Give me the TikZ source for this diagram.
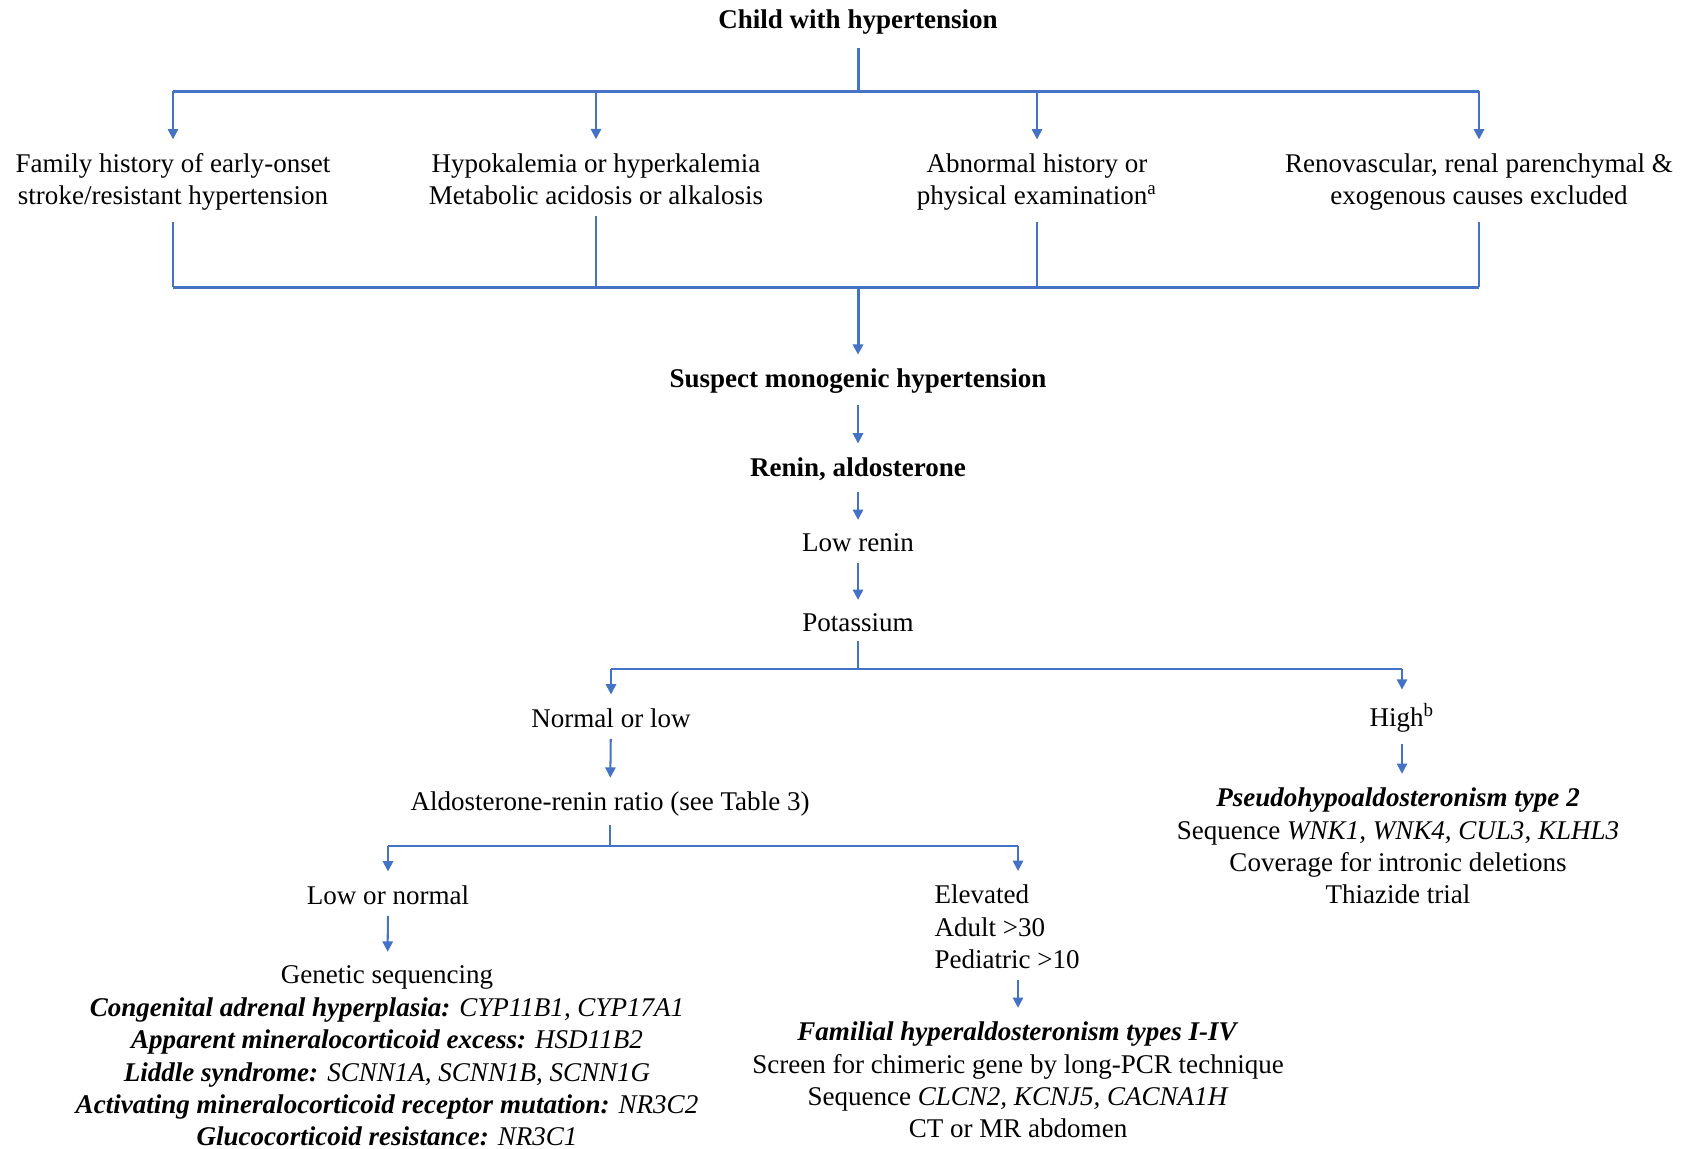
\documentclass[tikz,border=0pt]{standalone}
\usepackage{fontspec}
\setmainfont{Liberation Serif}
\usetikzlibrary{positioning,arrows.meta}
\definecolor{flowblue}{HTML}{4472C4}
\tikzset{
  txt/.style={inner sep=0pt, align=center, font=\fontsize{10}{12}\selectfont},
  link/.style={draw=flowblue, line width=0.75pt},
  trunk/.style={link, line width=1.1pt},
  arr/.style={link, -{Triangle[length=3.8pt,width=3.8pt]}, shorten <=4pt, shorten >=5pt},
}
\newcommand{\gene}[1]{\textit{#1}}
\newcommand{\dx}[1]{\textbf{\textit{#1}}}

\begin{document}
\begin{tikzpicture}[x=0.013cm, y=-0.013cm]
  \useasboundingbox (0,0) rectangle (1684,1148);

  % top level
  \node[txt, font=\fontsize{10}{12}\selectfont\bfseries] (child) at (858,22) {Child with hypertension};
  \node[txt] (famhx)   at (173,182)  {Family history of early-onset\\stroke/resistant hypertension};
  \node[txt] (kalemia) at (596,179)  {Hypokalemia or hyperkalemia\\Metabolic acidosis or alkalosis};
  \node[txt] (abnhx)   at (1037,182) {Abnormal history or\\physical examination\textsuperscript{a}};
  \node[txt] (excl)    at (1479,182) {Renovascular, renal parenchymal \&\\exogenous causes excluded};
  \coordinate (bar1) at (0,91);
  \coordinate (bar2) at (0,287);

  % main column
  \node[txt, font=\fontsize{10}{12}\selectfont\bfseries] (suspect) at (858,381) {Suspect monogenic hypertension};
  \node[txt, font=\fontsize{10}{12}\selectfont\bfseries] (renald)  at (858,469) {Renin, aldosterone};
  \node[txt] (lowrenin) at (858,543) {Low renin};
  \node[txt] (potass)   at (858,623) {Potassium};
  \coordinate (kbar) at (0,669);

  % potassium branches
  \node[txt] (normlow) at (611,718)  {Normal or low};
  \node[txt] (high)    at (1402,718) {High\textsuperscript{b}};
  \node[txt] (ratio)   at (610,804)  {Aldosterone-renin ratio (see Table 3)};
  \coordinate (abar) at (0,846);
  \node[txt] (pha2) at (1398,846) {\dx{Pseudohypoaldosteronism type 2}\\
    Sequence \gene{WNK1, WNK4, CUL3, KLHL3}\\
    Coverage for intronic deletions\\
    Thiazide trial};

  % ratio branches
  \node[txt] (lownorm) at (388,895) {Low or normal};
  \node[txt, align=left, anchor=west] (elev) at (934,927) {Elevated\\Adult >30\\Pediatric >10};
  \node[txt] (genseq) at (387,1056) {Genetic sequencing\\
    \dx{Congenital adrenal hyperplasia:} \gene{CYP11B1, CYP17A1}\\
    \dx{Apparent mineralocorticoid excess:} \gene{HSD11B2}\\
    \dx{Liddle syndrome:} \gene{SCNN1A, SCNN1B, SCNN1G}\\
    \dx{Activating mineralocorticoid receptor mutation:} \gene{NR3C2}\\
    \dx{Glucocorticoid resistance:} \gene{NR3C1}};
  \node[txt] (fh) at (1018,1080) {\dx{Familial hyperaldosteronism types I-IV}\\
    Screen for chimeric gene by long-PCR technique\\
    Sequence \gene{CLCN2, KCNJ5, CACNA1H}\\
    CT or MR abdomen};

  % connectors: top fan-out and fan-in
  \draw[trunk, shorten <=5pt] (child.south) -- (child.south |- bar1);
  \draw[trunk] (famhx.north |- bar1) -- (excl.north |- bar1);
  \foreach \n in {famhx,kalemia,abnhx,excl}
    \draw[arr, shorten <=0pt] (\n.north |- bar1) -- (\n.north);
  \foreach \n in {famhx,kalemia,abnhx,excl}
    \draw[link, shorten <=4pt] (\n.south) -- (\n.south |- bar2);
  \draw[trunk] (famhx.south |- bar2) -- (excl.south |- bar2);
  \draw[arr, trunk, shorten <=0pt] (suspect.north |- bar2) -- (suspect.north);

  % main column
  \draw[arr] (suspect) -- (renald);
  \draw[arr] (renald) -- (lowrenin);
  \draw[arr] (lowrenin) -- (potass);

  % potassium split
  \draw[link, shorten <=3pt] (potass.south) -- (potass.south |- kbar);
  \draw[link] (normlow.north |- kbar) -- (high.north |- kbar);
  \draw[arr, shorten <=0pt] (normlow.north |- kbar) -- (normlow.north);
  \draw[arr, shorten <=0pt] (high.north |- kbar) -- (high.north);
  \draw[arr] (normlow) -- (ratio);
  \draw[arr] (high) -- (pha2.north -| high);

  % ratio split
  \draw[link, shorten <=3pt] (ratio.south) -- (ratio.south |- abar);
  \draw[link] (lownorm.north |- abar) -- (fh.north |- abar);
  \draw[arr, shorten <=0pt] (lownorm.north |- abar) -- (lownorm.north);
  \draw[arr, shorten <=0pt] (fh.north |- abar) -- (fh.north |- elev.north);
  \draw[arr] (lownorm) -- (genseq);
  \draw[arr] (elev.south -| fh.north) -- (fh.north);
\end{tikzpicture}
\end{document}
